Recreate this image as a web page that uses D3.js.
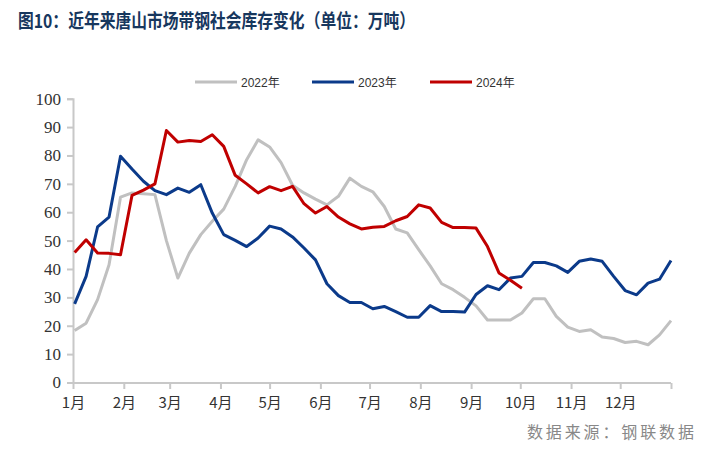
<!DOCTYPE html>
<html><head><meta charset="utf-8">
<script src="https://cdn.jsdelivr.net/npm/d3@7/dist/d3.min.js"></script>
<style>body{margin:0;background:#fff}svg{display:block}</style>
</head><body><svg id="c" width="713" height="453"></svg>
<script>
const title = "图10：近年来唐山市场带钢社会库存变化（单位：万吨）";
const source = "数据来源：钢联数据";
const seriesNames = ["2022年", "2023年", "2024年"];
const seriesColors = ["#C0C0C0", "#0B3A8A", "#C00000"];
const weekDates = ["2023-01-02","2023-01-09","2023-01-16","2023-01-23","2023-01-30","2023-02-06","2023-02-13","2023-02-20","2023-02-27","2023-03-06","2023-03-13","2023-03-20","2023-03-27","2023-04-03","2023-04-10","2023-04-17","2023-04-24","2023-05-01","2023-05-08","2023-05-15","2023-05-22","2023-05-29","2023-06-05","2023-06-12","2023-06-19","2023-06-26","2023-07-03","2023-07-10","2023-07-17","2023-07-24","2023-07-31","2023-08-07","2023-08-14","2023-08-21","2023-08-28","2023-09-04","2023-09-11","2023-09-18","2023-09-25","2023-10-02","2023-10-09","2023-10-16","2023-10-23","2023-10-30","2023-11-06","2023-11-13","2023-11-20","2023-11-27","2023-12-04","2023-12-11","2023-12-18","2023-12-25","2024-01-01"];
const values2022 = [18.3,20.9,29.2,41.5,65.3,66.8,66.5,66.2,50.0,36.8,45.6,52.1,56.8,61.1,69.1,78.5,85.5,83.0,77.5,69.5,66.8,64.6,62.6,65.6,72.0,69.1,67.2,62.0,54.1,52.7,46.8,41.1,34.8,32.7,30.0,27.0,22.0,22.0,22.0,24.5,29.5,29.5,23.3,19.5,18.0,18.6,16.0,15.5,14.1,14.5,13.3,16.8,21.8];
const values2023 = [27.7,37.4,54.8,58.3,79.7,75.2,70.9,67.6,66.2,68.5,67.0,69.7,59.7,52.1,50.1,47.9,50.9,55.1,54.1,51.3,47.4,43.2,34.8,30.6,28.2,28.2,26.0,26.8,25.0,23.0,23.0,27.1,25.0,25.0,24.8,31.0,34.1,32.7,36.8,37.4,42.3,42.3,41.1,38.8,42.7,43.5,42.7,37.4,32.4,30.9,35.0,36.4,43.0];
const values2024 = [45.8,50.3,45.6,45.5,45.0,65.9,67.8,70.0,88.8,84.7,85.3,84.9,87.3,83.2,73.0,70.0,66.8,69.0,67.6,69.1,63.0,59.7,62.0,58.3,55.9,54.1,54.7,55.0,57.0,58.5,62.6,61.5,56.4,54.6,54.6,54.4,47.9,38.6,36.0,33.2];
const yTicks = [0,10,20,30,40,50,60,70,80,90,100];
const monthLabels = ["1月","2月","3月","4月","5月","6月","7月","8月","9月","10月","11月","12月"];

const svg = d3.select("#c");
const parse = d3.timeParse("%Y-%m-%d");
const dates = weekDates.map(parse);
const x = d3.scaleTime().domain([parse("2023-01-01"), parse("2024-01-01")]).range([73, 671]);
const y = d3.scaleLinear().domain([0, 100]).range([382.5, 98.7]);
const axisColor = "#C8C8C8";

// Title
svg.append("text").attr("x", 18).attr("y", 28)
  .attr("font-family", "'Noto Sans CJK SC', sans-serif").attr("font-weight", "bold")
  .attr("font-size", 19).attr("fill", "#17375E")
  .attr("textLength", 397).attr("lengthAdjust", "spacingAndGlyphs")
  .text(title);

// Y axis
const yAxis = d3.axisLeft(y).tickValues(yTicks).tickSize(6).tickPadding(6);
const gy = svg.append("g").attr("transform", "translate(73,0)").call(yAxis);
gy.select(".domain").attr("stroke", axisColor).attr("stroke-width", 2);
gy.selectAll(".tick line").attr("stroke", axisColor).attr("stroke-width", 2);
gy.selectAll(".tick text").attr("font-family", "'Liberation Serif', serif").attr("font-size", 17).attr("fill", "#333");

// X axis
const monthTicks = d3.range(0, 13).map(m => new Date(2023, m, 1));
const xAxis = d3.axisBottom(x).tickValues(monthTicks).tickSize(6).tickPadding(8)
  .tickFormat((d, i) => i < 12 ? monthLabels[i] : "");
const gx = svg.append("g").attr("transform", "translate(0,383)").call(xAxis);
gx.select(".domain").attr("stroke", axisColor).attr("stroke-width", 2).attr("d", "M73,0H671");
gx.selectAll(".tick line").attr("stroke", axisColor).attr("stroke-width", 2);
gx.selectAll(".tick text").attr("font-family", "'Noto Sans CJK SC', sans-serif").attr("font-size", 15).attr("fill", "#333");

// Lines
const allSeries = [values2022, values2023, values2024];
const line = d3.line().x((d, i) => x(dates[i])).y(d => y(d));
allSeries.forEach((vals, k) => {
  svg.append("path").datum(vals).attr("fill", "none")
    .attr("stroke", seriesColors[k]).attr("stroke-width", 3)
    .attr("stroke-linejoin", "round").attr("d", line);
});

// Legend
const legendX = [195, 312, 430];
seriesNames.forEach((n, k) => {
  const g = svg.append("g").attr("transform", `translate(${legendX[k]},82)`);
  g.append("line").attr("x1", 0).attr("x2", 42).attr("y1", 0).attr("y2", 0)
    .attr("stroke", seriesColors[k]).attr("stroke-width", 3);
  g.append("text").attr("x", 46).attr("y", 5)
    .attr("font-family", "'Liberation Sans', 'Noto Sans CJK SC', sans-serif").attr("font-size", 12).attr("fill", "#333")
    .text(n);
});

// Source
svg.append("text").attr("x", 694).attr("y", 438).attr("text-anchor", "end")
  .attr("font-family", "'Noto Sans CJK SC', sans-serif").attr("font-size", 16).attr("fill", "#888")
  .attr("textLength", 167).attr("lengthAdjust", "spacing")
  .text(source);
</script></body></html>
